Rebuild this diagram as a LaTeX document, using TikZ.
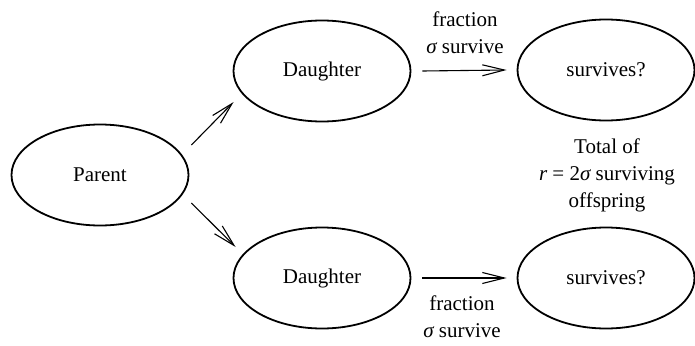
\documentclass[tikz,border=0pt]{standalone}
\usepackage{fontspec}
\setmainfont{Liberation Serif}
\usetikzlibrary{shapes.geometric,arrows.meta}
\tikzset{
  oval/.style={ellipse, draw, line width=1.8pt, minimum width=177pt, minimum height=101pt, inner sep=0pt, font=\fontsize{21}{27}\selectfont},
  lbl/.style={align=center, inner sep=0pt, font=\fontsize{21}{27}\selectfont},
  arr/.style={line width=1.1pt, -{Straight Barb[length=22pt,width=11pt,line width=1.1pt]}}
}
\newcommand{\sig}{{\itshape σ}}
\begin{document}
\begin{tikzpicture}[x=1pt,y=-1pt]
\useasboundingbox (0,0) rectangle (695,345);
\node[oval] (p) at (100,175) {Parent};
\node[oval] (d1) at (322,71) {Daughter};
\node[oval] (d2) at (322,278) {Daughter};
\node[oval] (s1) at (606,70) {survives?};
\node[oval] (s2) at (606,278) {survives?};
\draw[arr] ([xshift=2pt,yshift=30pt]p.east) -- ([xshift=1pt,yshift=-31pt]d1.west);
\draw[arr] ([xshift=2pt,yshift=-28pt]p.east) -- ([xshift=3pt,yshift=31pt]d2.west);
\draw[arr] ([xshift=11pt]d1.east) -- ([xshift=-10pt]s1.west);
\draw[arr] ([xshift=11pt]d2.east) -- ([xshift=-10pt]s2.west);
\node[lbl] (f1) at (465,33) {fraction\\\sig\ survive};
\node[lbl] (f2) at (462,317) {fraction\\\sig\ survive};
\node[lbl] (t) at (607,175) {Total of\\{\itshape r} = 2\sig\ surviving\\offspring};
\end{tikzpicture}
\end{document}
